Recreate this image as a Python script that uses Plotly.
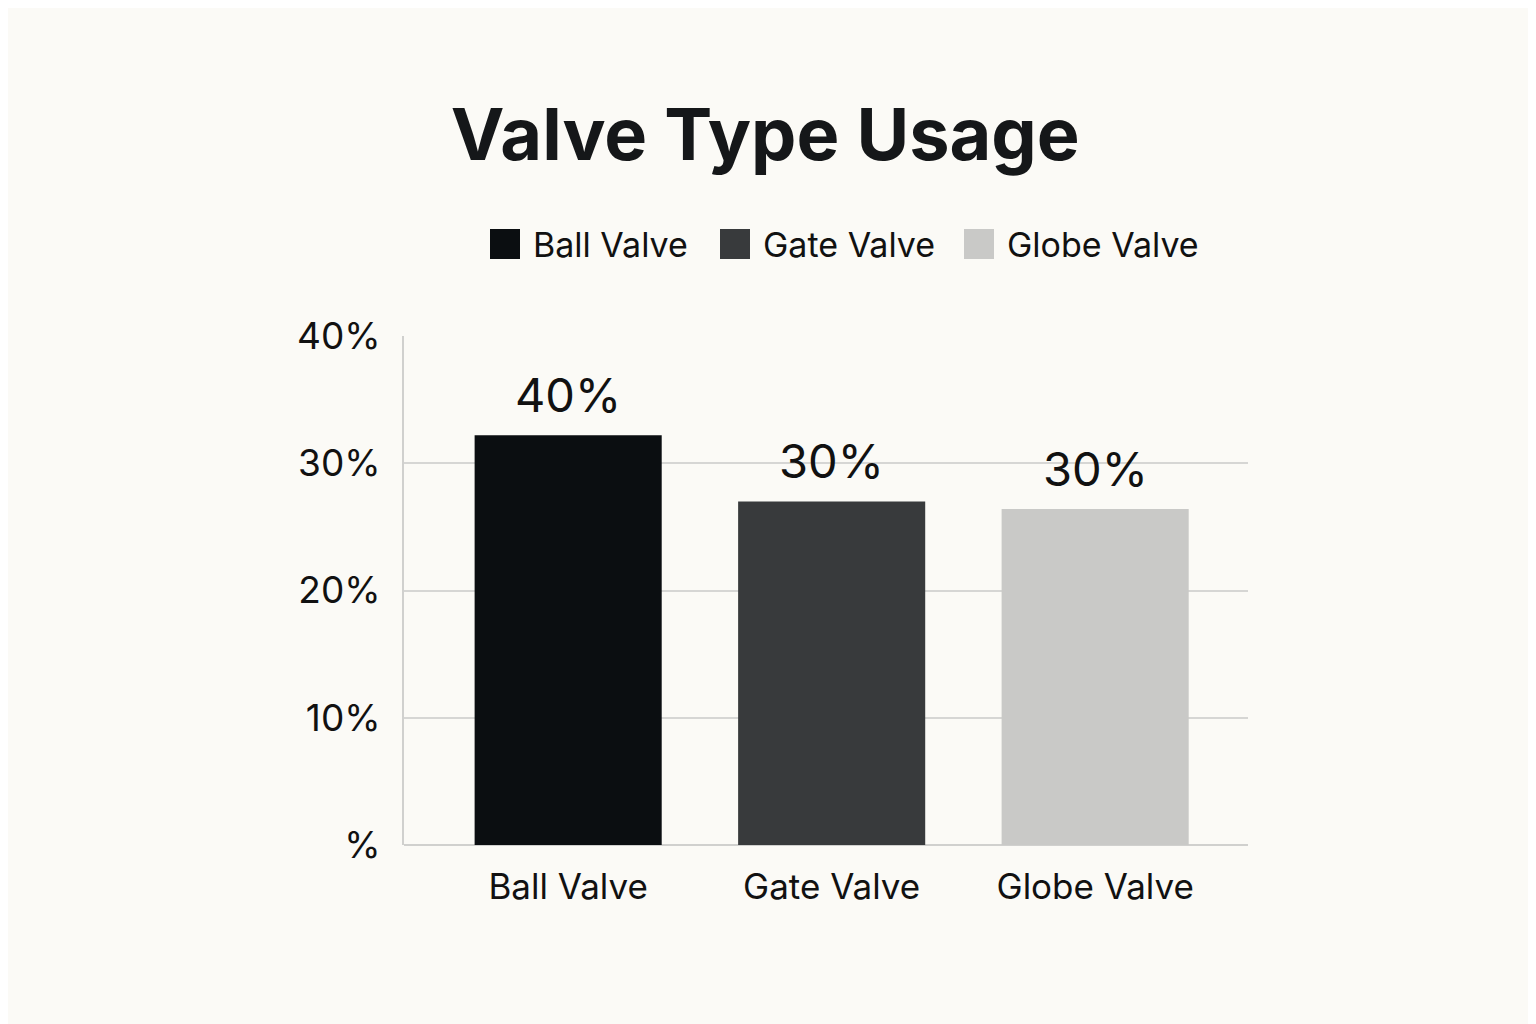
import plotly.graph_objects as go

# Data
categories = ["Ball Valve", "Gate Valve", "Globe Valve"]
bar_heights = [32.2, 27.0, 26.4]          # drawn height of each bar, in %
bar_labels = ["40%", "30%", "30%"]        # text printed above each bar
colors = ["#0b0e11", "#383a3c", "#c9c9c7"]
tick_values = [0, 10, 20, 30, 40]
tick_labels = ["%", "10%", "20%", "30%", "40%"]

BG = "#fbfaf6"
FONT = "Inter"
PLOT_W, PLOT_H = 844, 509   # plot area size in px, used to place the legend

fig = go.Figure()

for cat, h, col in zip(categories, bar_heights, colors):
    fig.add_trace(go.Bar(
        x=[cat], y=[h],
        marker=dict(color=col, line=dict(width=0)),
        width=0.71,
        showlegend=False,
        hoverinfo="skip",
    ))

# value labels above the bars
for cat, h, lab in zip(categories, bar_heights, bar_labels):
    fig.add_annotation(
        x=cat, y=h, text=lab, showarrow=False,
        yanchor="bottom", yshift=10,
        font=dict(family=FONT, size=47, color="#111111"),
    )

# hand-made legend above the plot: square swatch + label
legend_px = [86, 316, 560]      # swatch left edge, px from plot's left side
legend_y = 601 / PLOT_H         # centre line of the legend row
sw = 30
for lx, cat, col in zip(legend_px, categories, colors):
    fig.add_shape(
        type="rect", xref="paper", yref="paper",
        x0=lx / PLOT_W, x1=(lx + sw) / PLOT_W,
        y0=legend_y - sw / 2 / PLOT_H, y1=legend_y + sw / 2 / PLOT_H,
        fillcolor=col, line=dict(width=0),
    )
    fig.add_annotation(
        xref="paper", yref="paper",
        x=(lx + sw + 11) / PLOT_W, y=legend_y,
        text=cat, showarrow=False,
        xanchor="left", yanchor="middle",
        font=dict(family=FONT, size=34, color="#111111"),
    )

# baseline along the bottom of the plot
fig.add_shape(type="line", xref="paper", yref="paper", x0=0, x1=1, y0=0, y1=0,
              line=dict(color="#d0d0ce", width=2), layer="below")

fig.update_layout(
    width=1536, height=1024,
    paper_bgcolor=BG, plot_bgcolor=BG,
    margin=dict(l=396, r=296, t=328, b=187),
    barmode="overlay",
    title=dict(
        text="<b>Valve Type Usage</b>",
        x=0.493, xanchor="center",
        y=1 - 127 / 1024, yanchor="middle",
        font=dict(family=FONT, size=72, color="#151719"),
    ),
    xaxis=dict(
        range=[-0.623, 2.58],
        showgrid=False, zeroline=False,
        showline=False,
        ticks="", ticklabelstandoff=18,
        tickfont=dict(family=FONT, size=35, color="#111111"),
        fixedrange=True,
    ),
    yaxis=dict(
        range=[0, 40],
        tickvals=tick_values, ticktext=tick_labels,
        showgrid=True, gridcolor="#d6d6d4", gridwidth=2,
        zeroline=False,
        showline=True, linecolor="#d0d0ce", linewidth=2,
        ticks="", ticklabelstandoff=14,
        tickfont=dict(family=FONT, size=37, color="#111111"),
    ),
)

fig.write_html("out.html")
